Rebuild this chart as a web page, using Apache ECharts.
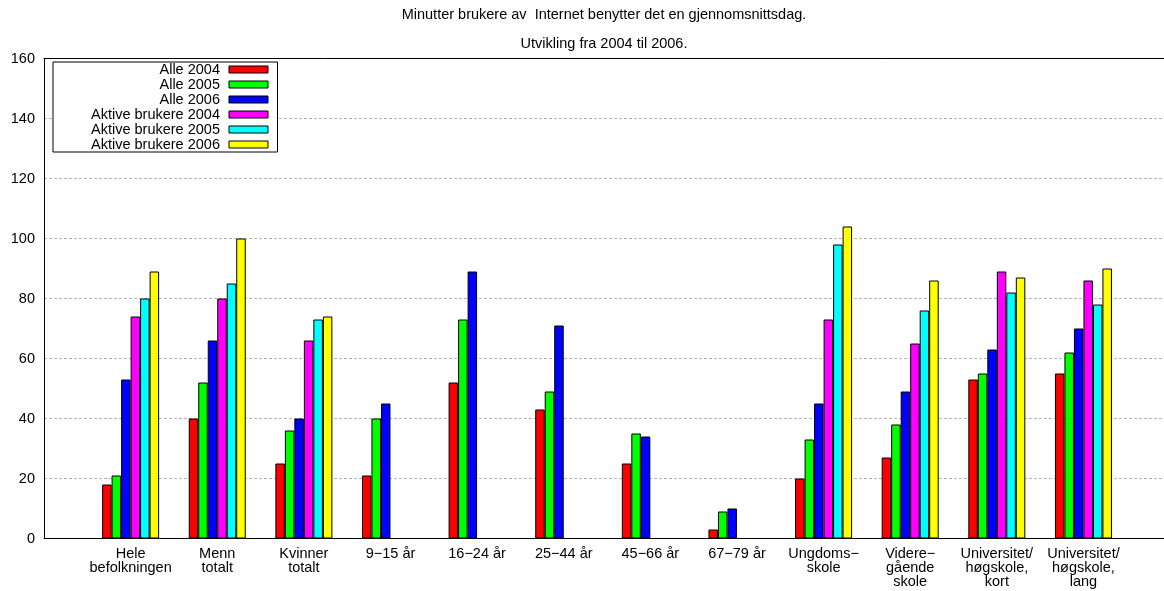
<!DOCTYPE html>
<html>
<head>
<meta charset="utf-8">
<script src="https://cdn.jsdelivr.net/npm/echarts@6/dist/echarts.min.js"></script>
<style>
  html, body { margin: 0; padding: 0; background: #fff; }
  #chart { width: 1164px; height: 591px; }
</style>
</head>
<body>
<div id="chart"></div>
<script>
// Group labels, one per cluster position 0..11
const categories = [
  'Hele\nbefolkningen',
  'Menn\ntotalt',
  'Kvinner\ntotalt',
  '9\u221215 år',
  '16\u221224 år',
  '25\u221244 år',
  '45\u221266 år',
  '67\u221279 år',
  'Ungdoms\u2212\nskole',
  'Videre\u2212\ngående\nskole',
  'Universitet/\nhøgskole,\nkort',
  'Universitet/\nhøgskole,\nlang'
];

// Minutes per average day
const alle2004   = [18, 40, 25, 21, 52, 43, 25, 3, 20, 27, 53, 55];
const alle2005   = [21, 52, 36, 40, 73, 49, 35, 9, 33, 38, 55, 62];
const alle2006   = [53, 66, 40, 45, 89, 71, 34, 10, 45, 49, 63, 70];
const aktive2004 = [74, 80, 66, 0, 0, 0, 0, 0, 73, 65, 89, 86];
const aktive2005 = [80, 85, 73, 0, 0, 0, 0, 0, 98, 76, 82, 78];
const aktive2006 = [89, 100, 74, 0, 0, 0, 0, 0, 104, 86, 87, 90];

const seriesNames = [
  'Alle 2004', 'Alle 2005', 'Alle 2006',
  'Aktive brukere 2004', 'Aktive brukere 2005', 'Aktive brukere 2006'
];
const seriesData = [alle2004, alle2005, alle2006, aktive2004, aktive2005, aktive2006];
const seriesColors = ['#ff0000', '#00ff00', '#0000ff', '#ff00ff', '#00ffff', '#ffff00'];

const yTicks = { min: 0, max: 160, interval: 20 };
// Cluster positions run 0..11; the axis starts one slot early and runs past the last cluster
const xRange = { min: -1, max: 11.93 };

const FONT = 'Liberation Sans, Arial, Helvetica, sans-serif';
const FS = 14.5;

const chart = echarts.init(document.getElementById('chart'), null, { renderer: 'canvas' });

const xAxisBase = {
  type: 'value',
  min: xRange.min,
  max: xRange.max,
  interval: 1,
  splitLine: { show: false },
  axisTick: { show: false },
  axisLine: { show: true, onZero: false, lineStyle: { color: '#000', width: 1 } }
};

chart.setOption({
  animation: false,
  backgroundColor: '#fff',
  textStyle: { fontFamily: FONT, fontSize: FS, color: '#000' },
  title: [
    {
      text: 'Minutter brukere av  Internet benytter det en gjennomsnittsdag.',
      left: 604, top: 7, textAlign: 'center', padding: 0,
      textStyle: { fontFamily: FONT, fontSize: FS, fontWeight: 'normal', color: '#000' }
    },
    {
      text: 'Utvikling fra 2004 til 2006.',
      left: 604, top: 36, textAlign: 'center', padding: 0,
      textStyle: { fontFamily: FONT, fontSize: FS, fontWeight: 'normal', color: '#000' }
    }
  ],
  legend: {
    orient: 'vertical',
    align: 'right',
    left: 53,
    top: 62,
    padding: [0, 9, 0, 38],
    itemGap: 0,
    itemWidth: 39,
    itemHeight: 7,
    icon: 'rect',
    selectedMode: false,
    backgroundColor: '#fff',
    borderColor: '#000',
    borderWidth: 1,
    formatter: name => name + ' ',
    itemStyle: { borderColor: '#000', borderWidth: 1 },
    textStyle: { fontFamily: FONT, fontSize: FS, color: '#000', lineHeight: 14.7 },
    data: seriesNames
  },
  grid: {
    left: 44,
    right: 0,
    top: 58.5,
    bottom: 52.5,
    show: false,
    containLabel: false
  },
  xAxis: [
    Object.assign({}, xAxisBase, {
      position: 'bottom',
      axisLabel: {
        showMinLabel: false,
        showMaxLabel: false,
        margin: 8,
        color: '#000',
        fontFamily: FONT,
        fontSize: FS,
        lineHeight: 14.3,
        align: 'center',
        formatter: v => (categories[Math.round(v)] !== undefined && Math.abs(v - Math.round(v)) < 1e-6) ? categories[Math.round(v)] : ''
      }
    }),
    Object.assign({}, xAxisBase, {
      position: 'top',
      axisLabel: { show: false }
    })
  ],
  yAxis: {
    type: 'value',
    min: yTicks.min,
    max: yTicks.max,
    interval: yTicks.interval,
    axisLine: { show: true, onZero: false, lineStyle: { color: '#000', width: 1 } },
    axisTick: { show: false },
    axisLabel: { margin: 9, color: '#000', fontFamily: FONT, fontSize: FS },
    splitLine: { show: true, lineStyle: { color: '#b4b4b4', width: 1, type: [3, 2] } }
  },
  series: seriesNames.map((name, i) => ({
    name: name,
    type: 'bar',
    xAxisIndex: 0,
    data: seriesData[i].map((v, k) => [k, v]),
    barWidth: 9.5,
    barGap: '0%',
    itemStyle: { color: seriesColors[i], borderColor: '#000', borderWidth: 1 },
    emphasis: { disabled: true }
  }))
});
</script>
</body>
</html>
